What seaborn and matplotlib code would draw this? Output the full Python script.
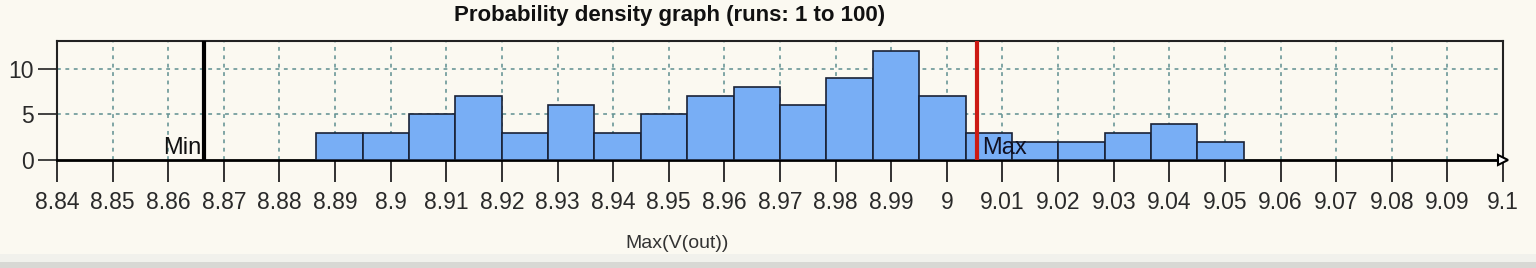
import numpy as np
import pandas as pd
import matplotlib
matplotlib.use("Agg")
import matplotlib.pyplot as plt
import seaborn as sns

# ---- data ----
counts = [3, 3, 5, 7, 3, 6, 3, 5, 7, 8, 6, 9, 12, 7, 3, 2, 2, 3, 4, 2]
bin_lo, bin_hi = 8.8866, 9.0534
min_marker = 8.8665
max_marker = 9.0055
x_ticks = [8.84, 8.85, 8.86, 8.87, 8.88, 8.89, 8.9, 8.91, 8.92, 8.93, 8.94,
           8.95, 8.96, 8.97, 8.98, 8.99, 9.0, 9.01, 9.02, 9.03, 9.04, 9.05,
           9.06, 9.07, 9.08, 9.09, 9.1]
x_tick_labels = ["8.84", "8.85", "8.86", "8.87", "8.88", "8.89", "8.9", "8.91",
                 "8.92", "8.93", "8.94", "8.95", "8.96", "8.97", "8.98", "8.99",
                 "9", "9.01", "9.02", "9.03", "9.04", "9.05", "9.06", "9.07",
                 "9.08", "9.09", "9.1"]
y_ticks = [0, 5, 10]
title = "Probability density graph (runs: 1 to 100)"
xlabel = "Max(V(out))"

edges = np.linspace(bin_lo, bin_hi, len(counts) + 1)
centers = (edges[:-1] + edges[1:]) / 2
df = pd.DataFrame({"v": centers, "n": counts})

sns.set_style("white")
plt.rcParams["font.family"] = ["Liberation Sans", "DejaVu Sans"]

BG = "#FBF9F1"
fig = plt.figure(figsize=(15.36, 2.68), dpi=100, facecolor=BG)
ax = fig.add_axes([57 / 1536, 108 / 268, 1446 / 1536, 119 / 268])
ax.set_facecolor(BG)

sns.histplot(data=df, x="v", weights="n", bins=list(edges), ax=ax,
             color="#78AEF5", alpha=1.0, edgecolor="#1A2236", linewidth=1.2,
             zorder=3)

ax.set_xlim(8.84, 9.1)
ax.set_ylim(0, 13.07)

# grid
for xt in x_ticks[1:-1]:
    ax.axvline(xt, color="#5E8F90", lw=1.1, ls=(0, (2.5, 3)), zorder=1)
for yt in [5, 10]:
    ax.axhline(yt, color="#5E8F90", lw=1.1, ls=(0, (2.5, 3)), zorder=1)

# min / max markers
ax.axvline(min_marker, color="black", lw=3, zorder=5)
ax.axvline(max_marker, color="#CC1A14", lw=3, zorder=5)
ax.text(min_marker - 0.0005, 0.1, "Min", ha="right", va="bottom",
        fontsize=17, color="#111111", zorder=6)
ax.text(max_marker + 0.0008, 0.1, "Max", ha="left", va="bottom",
        fontsize=17, color="#111122", zorder=6)

# axis arrow
ax.plot([9.1], [0], marker=">", markersize=7, mfc="white", mec="black",
        mew=1.5, clip_on=False, zorder=7)

ax.set_xticks(x_ticks)
ax.set_xticklabels(x_tick_labels)
ax.set_yticks(y_ticks)
ax.tick_params(axis="x", length=16, width=1.3, color="#222222", pad=6,
               labelsize=16.5, labelcolor="#2A2A2A", direction="out", bottom=True)
ax.tick_params(axis="y", length=14, width=1.3, color="#333333", pad=3,
               labelsize=16.5, labelcolor="#2A2A2A", direction="out", left=True)
ax.set_xlabel("")
ax.set_ylabel("")
for s in ax.spines.values():
    s.set_visible(True)
    s.set_color("#222222")
    s.set_linewidth(1.5)
ax.spines["bottom"].set_color("black")
ax.spines["bottom"].set_linewidth(2)

fig.text(670 / 1536, 1 - 15 / 268, title, ha="center", va="center",
         fontsize=16, fontweight="bold", color="#111111")
fig.text(677 / 1536, 1 - 243 / 268, xlabel, ha="center", va="center",
         fontsize=14, color="#333333")

# bottom window strip
fig.patches.append(plt.Rectangle((0, 0), 1, 6 / 268, transform=fig.transFigure,
                                 facecolor="#D8D8D4", edgecolor="none"))
fig.patches.append(plt.Rectangle((0, 6 / 268), 1, 8 / 268, transform=fig.transFigure,
                                 facecolor="#F1F1EC", edgecolor="none"))

fig.savefig("out.png", dpi=100, facecolor=BG)
